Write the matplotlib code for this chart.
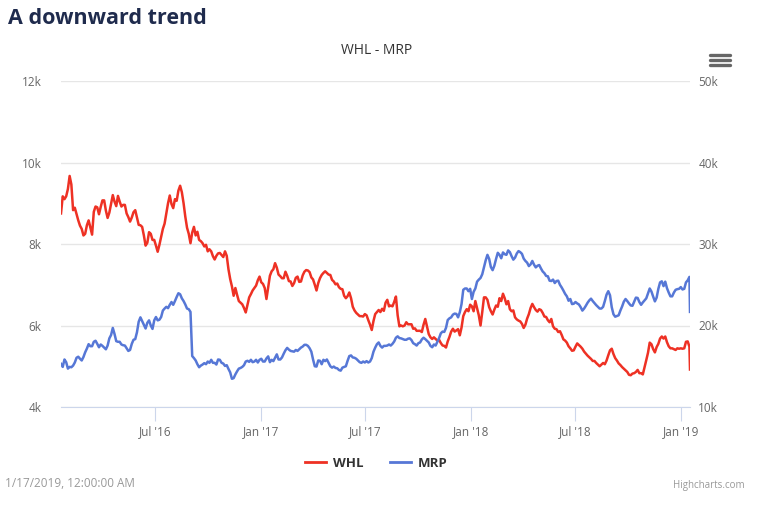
import numpy as np
import pandas as pd
import matplotlib
matplotlib.use("Agg")
import matplotlib.pyplot as plt
from matplotlib.lines import Line2D

# closes every third day, plus the last trading day
whl = [8750, 9170, 9100, 9170, 9350, 9670, 9460, 8830, 8890, 8730,
       8580, 8450, 8370, 8210, 8250, 8460, 8580, 8400, 8230, 8790,
       8920, 8900, 8730, 8910, 9070, 9070, 8820, 8640, 8770, 8980,
       9200, 9040, 8930, 9180, 9040, 8920, 8960, 8960, 8750, 8660,
       8550, 8650, 8780, 8830, 8650, 8470, 8460, 8420, 8210, 7960,
       8030, 8290, 8250, 8100, 8100, 7960, 7810, 7980,
       8170, 8370, 8500, 8750, 9000, 9190, 8980, 8880, 9100, 9060,
       9310, 9430, 9270, 9000, 8670, 8400, 8250, 8020, 8280, 8420,
       8210, 8300, 8100, 8070, 8020, 7940, 7980, 7820, 7870, 7820,
       7700, 7620, 7710, 7770, 7780, 7730, 7680, 7820, 7710, 7380,
       7140, 6960, 6730, 6920, 6750, 6600, 6560, 6520, 6430, 6320,
       6500, 6690, 6770, 6860, 6920, 6980, 7110, 7200, 7060,
       7020, 6920, 6650, 6930, 7220, 7330, 7380, 7530, 7420, 7250,
       7210, 7160, 7160, 7320, 7220, 7090, 7080, 6970, 7040, 7170,
       7200, 7070, 7080, 7230, 7320, 7360, 7350, 7310, 7180, 7130,
       7000, 6860, 7040, 7160, 7240, 7290, 7330, 7290, 7250, 7240,
       7120, 7080, 7010, 7030, 6940, 6900, 6890, 6730, 6670, 6720,
       6810, 6670, 6460, 6370, 6310, 6270, 6230, 6230, 6220, 6280,
       6250,
       6130, 6020, 5890, 6110, 6280, 6330, 6380, 6330, 6410, 6360,
       6560, 6630, 6470, 6490, 6470, 6580, 6710, 6250, 5980, 6000,
       5980, 6000, 6080, 6030, 6030, 6030, 5920, 5930, 5870, 5870,
       5870, 5840, 6020, 6160, 5970, 5790, 5710, 5670, 5710, 5670,
       5630, 5650, 5570, 5510, 5500, 5460, 5610, 5720, 5850, 5920,
       5850, 5880, 5910, 5760, 5950, 6230, 6330, 6400, 6350, 6510,
       6470,
       6350, 6600, 6430, 6250, 6000, 6330, 6690, 6690, 6630, 6450,
       6350, 6270, 6390, 6490, 6460, 6670, 6600, 6780, 6670, 6520,
       6600, 6400, 6350, 6370, 6200, 6150, 6120, 6100, 6040, 5940,
       6020, 6170, 6280, 6430, 6530, 6450, 6380, 6340, 6400, 6380,
       6310, 6220, 6210, 6130, 6080, 6160, 5980, 5920, 5910, 5840,
       5860, 5770, 5660, 5630, 5580, 5490, 5440, 5380, 5390, 5480,
       5560,
       5520, 5480, 5430, 5360, 5310, 5260, 5220, 5180, 5130, 5130,
       5080, 5040, 5000, 5040, 5080, 5050, 5140, 5270, 5390, 5430,
       5300, 5200, 5140, 5070, 5030, 4980, 4940, 4900, 4860, 4790,
       4780, 4820, 4830, 4860, 4910, 4830, 4830, 4800, 4970, 5150,
       5330, 5580, 5540, 5420, 5340, 5470, 5550, 5680, 5730, 5680,
       5730, 5590, 5490, 5440, 5440, 5420, 5400, 5440, 5430, 5440,
       5430, 5440, 5600, 5610, 5480,
       4920]

mrp = [15290, 14920, 15830, 15500, 14710, 14920, 14880, 15080, 15460, 16040,
       16170, 15920, 15710, 16130, 16710, 17170, 17710, 17460, 17460, 18000,
       18130, 17750, 17330, 17670, 17500, 17290, 17080, 17540, 18420, 18830,
       19700, 18960, 18080, 18000, 18000, 17670, 17580, 17540, 17210, 16880,
       17000, 17750, 18250, 18330, 19170, 20460, 21000, 20540, 20080, 19630,
       20330, 20630, 20000, 19580, 20630, 21040, 20630, 20710,
       21040, 21830, 22080, 22290, 22130, 22540, 22880, 22540, 23000, 23500,
       23960, 23830, 23330, 23000, 22580, 22080, 22000, 21670, 16250, 16000,
       15710, 15250, 14880, 15080, 15210, 15380, 15250, 15580, 15420, 15790,
       15420, 15420, 15210, 15830, 15790, 15420, 15330, 15040, 15130, 14670,
       14250, 13460, 13540, 14000, 14380, 14710, 14790, 14920, 15130, 15580,
       15670, 15540, 15790, 15500, 15580, 15790, 15460, 15790, 15920,
       15580, 15580, 15960, 16210, 15500, 15790, 15630, 16040, 16460, 15830,
       15830, 16080, 16540, 16960, 17250, 17040, 16880, 16830, 16790, 17000,
       16880, 17080, 17290, 17420, 17630, 17630, 17500, 17210, 16790, 15830,
       15000, 14960, 15710, 15670, 15250, 15790, 15630, 15830, 15420, 15000,
       14830, 14960, 14790, 14750, 14540, 14460, 14830, 14920, 15000, 15670,
       16250, 16330, 16080, 16040, 15920, 15710, 15500, 15420, 15580, 15460,
       15630,
       15460, 15580, 16000, 16790, 17290, 17710, 17920, 17500, 17290, 17500,
       17500, 17540, 17670, 17540, 17750, 18040, 18500, 18670, 18460, 18420,
       18330, 18250, 18250, 18380, 18420, 18210, 17830, 17710, 17540, 17830,
       17920, 18290, 18500, 18330, 18130, 17920, 17500, 17330, 17670, 17540,
       18000, 18460, 19040, 19250, 19210, 19710, 20670, 20880, 21000, 21330,
       21460, 21420, 21000, 21630, 22630, 24380, 24540, 24540, 24210, 24500,
       23250,
       24130, 24540, 25380, 25630, 25830, 26290, 27170, 28000, 28670, 28170,
       27170, 26790, 27330, 28170, 28920, 28670, 28250, 28960, 28750, 28670,
       29210, 29000, 28500, 28080, 28330, 28830, 29130, 29000, 28790, 28210,
       27920, 27710, 27290, 27500, 27920, 27460, 27130, 27330, 27420, 27000,
       26630, 26420, 26080, 26040, 25500, 25460, 25630, 25210, 25460, 25500,
       25000, 24670, 24290, 23880, 23580, 23040, 23250, 22630, 22670, 22880,
       22710,
       22580, 22250, 21830, 22080, 22420, 22790, 23080, 23290, 23000, 22750,
       22500, 22290, 22080, 22080, 22290, 23000, 23790, 24210, 23710, 22250,
       21380, 21080, 21170, 21250, 21830, 22330, 22920, 23250, 23000, 22710,
       22460, 22420, 22920, 23420, 23380, 22880, 22540, 22830, 23080, 23330,
       23920, 24540, 24170, 23540, 22960, 23420, 24500, 25290, 25420, 24830,
       25380, 24580, 24040, 23580, 23580, 24040, 24380, 24460, 24500, 24710,
       24420, 24500, 25290, 25540, 25960,
       21670]

dates = list(pd.date_range("2016-01-20", periods=len(whl) - 1, freq="3D")) + [pd.Timestamp("2019-01-17")]

tick_dates = ["2016-07-01", "2017-01-01", "2017-07-01", "2018-01-01", "2018-07-01", "2019-01-01"]
tick_labels = ["Jul '16", "Jan '17", "Jul '17", "Jan '18", "Jul '18", "Jan '19"]
left_ticks = [4000, 6000, 8000, 10000, 12000]
left_labels = ["4k", "6k", "8k", "10k", "12k"]
right_ticks = [10000, 20000, 30000, 40000, 50000]
right_labels = ["10k", "20k", "30k", "40k", "50k"]

plt.rcParams['font.family'] = ['Open Sans', 'DejaVu Sans']

fig = plt.figure(figsize=(7.6, 5.11), dpi=100)
ax = fig.add_axes([61/760, 1-407/511, 629/760, 326/511])
ax2 = ax.twinx()

ax.plot(dates, whl, color='#ee3124', lw=1.8, label='WHL')
ax2.plot(dates, mrp, color='#5677d6', lw=1.8, label='MRP')

ax.set_xlim(dates[0], dates[-1])
ax.set_ylim(4000, 12000)
ax2.set_ylim(10000, 50000)

ax.set_xticks(pd.to_datetime(tick_dates))
ax.set_xticklabels(tick_labels)
ax.set_yticks(left_ticks)
ax.set_yticklabels(left_labels)
ax2.set_yticks(right_ticks)
ax2.set_yticklabels(right_labels)

ax.grid(axis='y', color='#e6e6e6', lw=1)
ax.set_axisbelow(True)
for a in (ax, ax2):
    for s in a.spines.values():
        s.set_visible(False)
ax.spines['bottom'].set_visible(True)
ax.spines['bottom'].set_color('#ccd6eb')
ax.tick_params(axis='x', length=10, color='#ccd6eb', labelsize=8.5, labelcolor='#666666', pad=3)
ax.tick_params(axis='y', length=0, labelsize=8.5, labelcolor='#666666', pad=14)
ax2.tick_params(axis='y', length=0, labelsize=8.5, labelcolor='#666666', pad=6)

fig.text(8/760, 1-18/511, "A downward trend", fontsize=15.5, fontweight='bold',
         color='#1f2b4d', ha='left', va='center')
fig.text(377/760, 1-50/511, "WHL - MRP", fontsize=10, color='#333333', ha='center', va='center')

# menu icon
for yy in (55, 60, 65):
    fig.add_artist(Line2D([710/760, 730/760], [1-yy/511, 1-yy/511], color='#666666',
                          lw=2.4, solid_capstyle='round'))

h1 = Line2D([], [], color='#ee3124', lw=2)
h2 = Line2D([], [], color='#5677d6', lw=2)
fig.legend([h1, h2], ['WHL', 'MRP'], loc='center', bbox_to_anchor=(376/760, 1-463/511),
           ncol=2, frameon=False, handlelength=1.6, handletextpad=0.5, columnspacing=2.0,
           prop={'weight': 'bold', 'size': 9.5}, labelcolor='#333333')

fig.text(5/760, 1-483/511, "1/17/2019, 12:00:00 AM", fontsize=8.5, color='#999999',
         ha='left', va='center')
fig.text(745/760, 1-485/511, "Highcharts.com", fontsize=7, color='#999999',
         ha='right', va='center')

fig.savefig("out.png", dpi=100)
